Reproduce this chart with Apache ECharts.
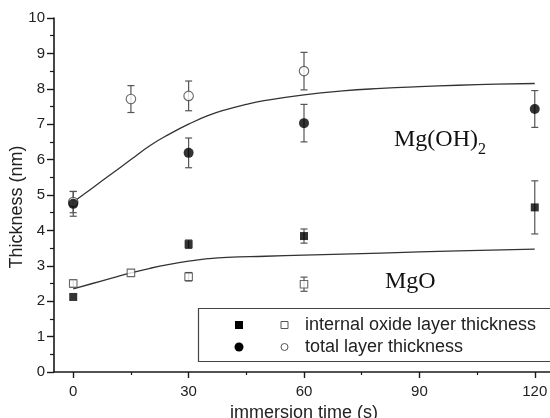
<!DOCTYPE html>
<html>
<head>
<meta charset="utf-8">
<style>
  html, body { margin: 0; padding: 0; background: #fff; }
  #chart { width: 550px; height: 418px; }
</style>
<script src="https://cdn.jsdelivr.net/npm/echarts@6/dist/echarts.min.js"></script>
</head>
<body>
<div id="chart"></div>
<script>
// Immersion times (s) and measured layer thicknesses (nm) with error bars
const innerFilledX = [0, 30, 60, 120];
const innerFilledY = [2.12, 3.61, 3.84, 4.65];
const innerFilledErr = [0, 0.12, 0.2, 0.75];

const innerOpenX = [0, 15, 30, 60];
const innerOpenY = [2.5, 2.8, 2.69, 2.48];
const innerOpenErr = [0.1, 0, 0.12, 0.2];

const totalFilledX = [0, 30, 60, 120];
const totalFilledY = [4.75, 6.19, 7.03, 7.43];
const totalFilledErr = [0.35, 0.42, 0.53, 0.52];

const totalOpenX = [0, 15, 30, 60];
const totalOpenY = [4.8, 7.71, 7.8, 8.5];
const totalOpenErr = [0.3, 0.38, 0.42, 0.53];

// Fitted growth curves
const fitTotalX = [0, 5, 10, 15, 20, 25, 30, 35, 40, 45, 50, 60, 70, 80, 90, 100, 110, 120];
const fitTotalY = [4.8, 5.2, 5.6, 6.0, 6.4, 6.72, 7.0, 7.24, 7.42, 7.56, 7.67, 7.83, 7.94, 8.01, 8.06, 8.1, 8.13, 8.15];
const fitInnerX = [0, 5, 10, 15, 20, 25, 30, 35, 40, 50, 60, 80, 100, 120];
const fitInnerY = [2.35, 2.5, 2.65, 2.8, 2.93, 3.04, 3.13, 3.2, 3.24, 3.27, 3.3, 3.36, 3.42, 3.47];

// Axis ticks
const xMajorTicks = [0, 30, 60, 90, 120];
const xMinorTicks = [15, 45, 75, 105];

const pairs = (xs, ys) => xs.map((x, i) => [x, ys[i]]);
const errRows = (xs, ys, es) => xs.map((x, i) => [x, ys[i] - es[i], ys[i] + es[i]]);

const ink = '#1a1a1a';
const sans = '"Liberation Sans", Arial, sans-serif';
const serif = '"Liberation Serif", "Times New Roman", serif';

function errorBars(name, rows) {
  return {
    type: 'custom',
    name: name,
    silent: true,
    z: 1,
    data: rows,
    renderItem: function (params, api) {
      const lo = api.value(1), hi = api.value(2);
      if (hi - lo <= 0) return null;
      const p1 = api.coord([api.value(0), lo]);
      const p2 = api.coord([api.value(0), hi]);
      const w = 3.5;
      const style = { stroke: '#555', lineWidth: 1.2, fill: null };
      return {
        type: 'group',
        children: [
          { type: 'line', shape: { x1: p1[0], y1: p1[1], x2: p2[0], y2: p2[1] }, style },
          { type: 'line', shape: { x1: p1[0] - w, y1: p1[1], x2: p1[0] + w, y2: p1[1] }, style },
          { type: 'line', shape: { x1: p2[0] - w, y1: p2[1], x2: p2[0] + w, y2: p2[1] }, style }
        ]
      };
    }
  };
}

const chart = echarts.init(document.getElementById('chart'), null, { renderer: 'canvas' });

const axisFont = { fontFamily: sans, fontSize: 15, color: '#222' };

chart.setOption({
  animation: false,
  backgroundColor: '#fff',
  grid: { left: 54, top: 18, width: 500, height: 354, outerBoundsMode: 'none', containLabel: false },
  xAxis: [{
    type: 'value',
    min: -5,
    max: 125,
    splitLine: { show: false },
    axisLine: { onZero: false, lineStyle: { color: ink, width: 1.6 } },
    axisTick: { customValues: xMajorTicks, length: 6, lineStyle: { color: ink, width: 1.4 } },
    axisLabel: Object.assign({ customValues: xMajorTicks, margin: 12 }, axisFont),
    name: 'immersion time (s)',
    nameLocation: 'middle',
    nameGap: 27,
    nameTextStyle: { fontFamily: sans, fontSize: 18, color: '#222' }
  }, {
    type: 'value',
    min: -5,
    max: 125,
    position: 'bottom',
    splitLine: { show: false },
    axisLine: { show: false },
    axisTick: { customValues: xMinorTicks, length: 3, lineStyle: { color: ink, width: 1.2 } },
    axisLabel: { show: false }
  }],
  yAxis: {
    type: 'value',
    min: 0,
    max: 10,
    interval: 1,
    splitLine: { show: false },
    axisLine: { onZero: false, lineStyle: { color: ink, width: 1.6 } },
    axisTick: { length: 7, lineStyle: { color: ink, width: 1.4 } },
    minorTick: { show: true, splitNumber: 2, length: 4, lineStyle: { color: ink, width: 1.2 } },
    axisLabel: Object.assign({ margin: 9 }, axisFont)
  },
  series: [
    {
      type: 'line', name: 'fit total', data: pairs(fitTotalX, fitTotalY), smooth: true,
      showSymbol: false, silent: true, z: 1,
      lineStyle: { color: '#333', width: 1.3 }
    },
    {
      type: 'line', name: 'fit inner', data: pairs(fitInnerX, fitInnerY), smooth: true,
      showSymbol: false, silent: true, z: 1,
      lineStyle: { color: '#333', width: 1.3 }
    },
    errorBars('err inner filled', errRows(innerFilledX, innerFilledY, innerFilledErr)),
    errorBars('err inner open', errRows(innerOpenX, innerOpenY, innerOpenErr)),
    errorBars('err total filled', errRows(totalFilledX, totalFilledY, totalFilledErr)),
    errorBars('err total open', errRows(totalOpenX, totalOpenY, totalOpenErr)),
    {
      type: 'scatter', name: 'internal oxide layer thickness (filled)',
      data: pairs(innerFilledX, innerFilledY), symbol: 'rect', symbolSize: 8, z: 3,
      itemStyle: { color: '#000' }
    },
    {
      type: 'scatter', name: 'internal oxide layer thickness (open)',
      data: pairs(innerOpenX, innerOpenY), symbol: 'rect', symbolSize: 7.5, z: 3,
      itemStyle: { color: '#fff', borderColor: '#444', borderWidth: 1.1 }
    },
    {
      type: 'scatter', name: 'total layer thickness (open)',
      data: pairs(totalOpenX, totalOpenY), symbol: 'circle', symbolSize: 9.5, z: 3,
      itemStyle: { color: '#fff', borderColor: '#444', borderWidth: 1.1 }
    },
    {
      type: 'scatter', name: 'total layer thickness (filled)',
      data: pairs(totalFilledX, totalFilledY), symbol: 'circle', symbolSize: 10, z: 4,
      itemStyle: { color: '#000' }
    }
  ],
  graphic: [
    // vertical axis title
    { type: 'text', x: 17, y: 207, rotation: Math.PI / 2, z: 10,
      style: { text: 'Thickness (nm)', font: '18px ' + sans, fill: '#222', align: 'center', verticalAlign: 'middle' } },
    // phase labels
    { type: 'text', x: 394, y: 140, z: 10,
      style: { text: 'Mg(OH)', font: '24px ' + serif, fill: '#111', verticalAlign: 'middle' } },
    { type: 'text', x: 478, y: 150, z: 10,
      style: { text: '2', font: '16px ' + serif, fill: '#111', verticalAlign: 'middle' } },
    { type: 'text', x: 385, y: 282, z: 10,
      style: { text: 'MgO', font: '24px ' + serif, fill: '#111', verticalAlign: 'middle' } },
    // legend box
    { type: 'rect', z: 10,
      shape: { x: 198.5, y: 308.5, width: 360, height: 53 },
      style: { fill: '#fff', stroke: '#444', lineWidth: 1.2 } },
    { type: 'rect', z: 11, shape: { x: 235, y: 321, width: 8, height: 8 }, style: { fill: '#000' } },
    { type: 'rect', z: 11, shape: { x: 281, y: 321.5, width: 7, height: 7 }, style: { fill: '#fff', stroke: '#555', lineWidth: 1 } },
    { type: 'circle', z: 11, shape: { cx: 239, cy: 347, r: 4.5 }, style: { fill: '#000' } },
    { type: 'circle', z: 11, shape: { cx: 284.5, cy: 347, r: 3.5 }, style: { fill: '#fff', stroke: '#555', lineWidth: 1 } },
    { type: 'text', x: 305, y: 325, z: 11,
      style: { text: 'internal oxide layer thickness', font: '18px ' + sans, fill: '#222', verticalAlign: 'middle' } },
    { type: 'text', x: 305, y: 347, z: 11,
      style: { text: 'total layer thickness', font: '18px ' + sans, fill: '#222', verticalAlign: 'middle' } }
  ]
});
</script>
</body>
</html>
